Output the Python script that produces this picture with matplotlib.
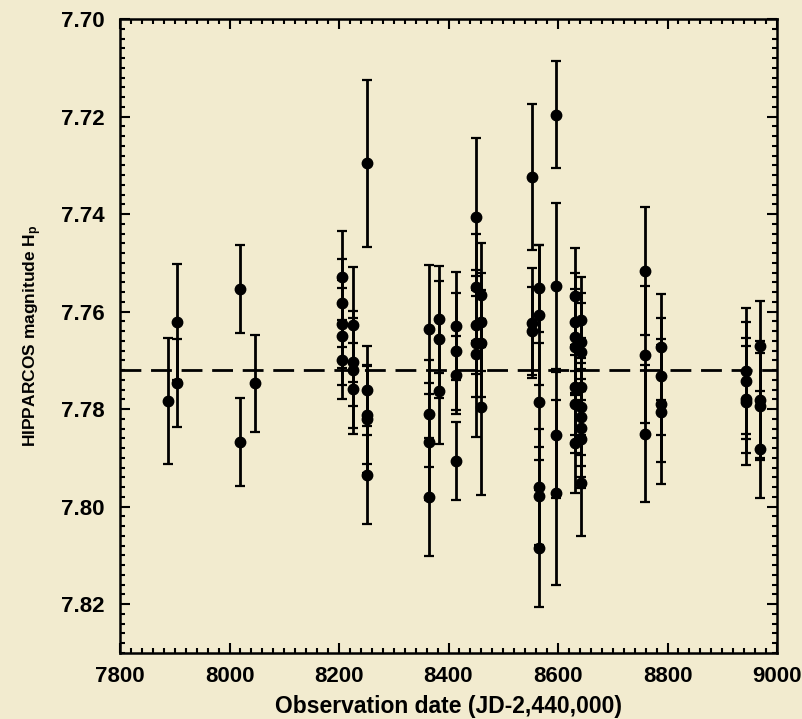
import numpy as np
import matplotlib
matplotlib.use("Agg")
import matplotlib.pyplot as plt
from matplotlib.ticker import MultipleLocator

plt.rcParams['font.family'] = ['Liberation Sans', 'DejaVu Sans']
plt.rcParams['font.weight'] = 'bold'
plt.rcParams['mathtext.fontset'] = 'custom'
plt.rcParams['mathtext.rm'] = 'Liberation Sans:bold'
plt.rcParams['mathtext.bf'] = 'Liberation Sans:bold'
plt.rcParams['mathtext.it'] = 'Liberation Sans:bold'

# observation dates (JD-2,440,000), magnitudes Hp and errors
fechas = [7887, 7905, 7905, 8019, 8019, 8046,
          8205, 8205, 8205, 8205, 8205,
          8226, 8226, 8226, 8226,
          8252, 8252, 8252, 8252, 8252,
          8364, 8364, 8364, 8364,
          8382, 8382, 8382,
          8413, 8413, 8413, 8413,
          8451, 8451, 8451, 8451, 8451,
          8460, 8460, 8460, 8460,
          8552, 8552, 8552,
          8565, 8565, 8565, 8565, 8565, 8565,
          8596, 8596, 8596, 8596,
          8631, 8631, 8631, 8631, 8631, 8631, 8631,
          8642, 8642, 8642, 8642, 8642, 8642, 8642, 8642, 8642,
          8759, 8759, 8759,
          8788, 8788, 8788, 8788,
          8943, 8943, 8943, 8943,
          8969, 8969, 8969, 8969]
magnitudes = [7.7783, 7.7621, 7.7747, 7.7554, 7.7867, 7.7747,
              7.7530, 7.7582, 7.7625, 7.7651, 7.7699,
              7.7627, 7.7704, 7.7719, 7.7758,
              7.7296, 7.7761, 7.7812, 7.7820, 7.7935,
              7.7636, 7.7809, 7.7867, 7.7980,
              7.7616, 7.7657, 7.7763,
              7.7630, 7.7681, 7.7730, 7.7906,
              7.7407, 7.7550, 7.7627, 7.7665, 7.7686,
              7.7566, 7.7621, 7.7665, 7.7796,
              7.7324, 7.7624, 7.7640,
              7.7552, 7.7607, 7.7785, 7.7960, 7.7978, 7.8085,
              7.7196, 7.7547, 7.7853, 7.7971,
              7.7569, 7.7621, 7.7653, 7.7672, 7.7754, 7.7789, 7.7869,
              7.7617, 7.7662, 7.7682, 7.7754, 7.7795, 7.7817, 7.7839, 7.7862, 7.7951,
              7.7517, 7.7688, 7.7850,
              7.7673, 7.7733, 7.7789, 7.7805,
              7.7722, 7.7742, 7.7780, 7.7785,
              7.7670, 7.7781, 7.7794, 7.7882]
errores = [0.0129, 0.0119, 0.0090, 0.0090, 0.0090, 0.0100,
           0.0095, 0.0090, 0.0090, 0.0100, 0.0081,
           0.0118, 0.0090, 0.0120, 0.0093,
           0.0171, 0.0091, 0.0100, 0.0110, 0.0100,
           0.0132, 0.0110, 0.0120, 0.0121,
           0.0110, 0.0120, 0.0108,
           0.0111, 0.0120, 0.0080, 0.0080,
           0.0162, 0.0110, 0.0100, 0.0110, 0.0172,
           0.0106, 0.0100, 0.0110, 0.0180,
           0.0150, 0.0113, 0.0090,
           0.0089, 0.0144, 0.0120, 0.0120, 0.0100, 0.0120,
           0.0110, 0.0170, 0.0130, 0.0190,
           0.0099, 0.0100, 0.0100, 0.0100, 0.0100, 0.0100, 0.0102,
           0.0089, 0.0100, 0.0100, 0.0100, 0.0100, 0.0100, 0.0100, 0.0100, 0.0109,
           0.0131, 0.0140, 0.0140,
           0.0109, 0.0120, 0.0120, 0.0149,
           0.0129, 0.0120, 0.0110, 0.0130,
           0.0092, 0.0120, 0.0110, 0.0100]
media = 7.7720

x_ticks = [7800, 8000, 8200, 8400, 8600, 8800, 9000]
y_ticks = [7.70, 7.72, 7.74, 7.76, 7.78, 7.80, 7.82]


def main():
    fondo = '#f2ebcf'
    fig = plt.figure(figsize=(8.03, 7.19), dpi=100, facecolor=fondo)
    ax = fig.add_axes([120 / 803, 1 - 653 / 719, 657 / 803, 634 / 719])
    ax.set_facecolor(fondo)

    ax.axhline(media, color='black', lw=2.0, dashes=(7.5, 3.5), zorder=1)
    ax.errorbar(fechas, magnitudes, yerr=errores, fmt='o', color='black',
                ms=7.5, elinewidth=2.0, capsize=3.5, capthick=1.6, zorder=3)

    ax.set_xlim(7800, 9000)
    ax.set_ylim(7.83, 7.70)
    ax.set_xticks(x_ticks)
    ax.set_yticks(y_ticks)
    ax.set_yticklabels(['%.2f' % v for v in y_ticks])
    ax.xaxis.set_minor_locator(MultipleLocator(20))
    ax.yaxis.set_minor_locator(MultipleLocator(0.002))
    ax.tick_params(which='both', direction='in', top=True, right=True,
                   width=1.5, labelsize=16)
    ax.tick_params(which='major', length=7)
    ax.tick_params(which='minor', length=3.5)
    ax.tick_params(axis='x', which='major', pad=9)
    ax.tick_params(axis='y', which='major', pad=11)
    for s in ax.spines.values():
        s.set_linewidth(1.8)

    ax.set_xlabel('Observation date (JD-2,440,000)', fontsize=16.5,
                  fontweight='bold', labelpad=6)
    ax.set_ylabel(r'HIPPARCOS magnitude H$_\mathbf{p}$', fontsize=12.5,
                  fontweight='bold', labelpad=12)

    fig.savefig('out.png', dpi=100, facecolor=fondo)


if __name__ == "__main__":
    main()
